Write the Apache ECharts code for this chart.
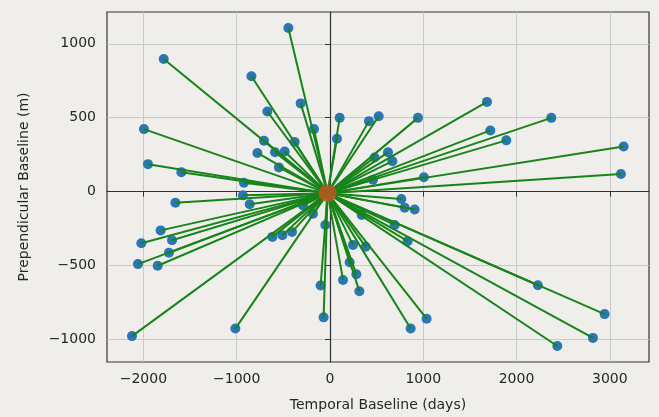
<!DOCTYPE html>
<html>
<head>
<meta charset="utf-8">
<script src="https://cdn.jsdelivr.net/npm/echarts@6/dist/echarts.min.js"></script>
<style>
html,body{margin:0;padding:0;background:#f0eeeb;}
#c{width:659px;height:417px;}
</style>
</head>
<body>
<div id="c"></div>
<script>
const center = [-25, -10];
const tempBaseline = [-446,-1782,-842,-671,-314,-1994,-171,-707,-378,-778,-589,-485,-547,-1951,-1593,-922,-933,-860,-1657,-1815,-2022,-1693,-1726,-2058,-1847,-2122,-1014,-617,-510,-407,-100,-68,-50,-289,-182,104,75,418,522,943,1683,1719,1890,2373,3148,3119,1007,479,622,669,461,765,801,908,340,693,833,247,383,211,283,140,315,2229,2944,2819,2437,865,1036];
const perpBaseline = [1107,897,781,542,597,423,423,345,336,262,266,271,164,186,132,60,-25,-85,-75,-262,-349,-329,-413,-490,-501,-977,-926,-306,-295,-272,-635,-850,-226,-94,-150,499,358,477,510,499,607,414,347,499,305,119,97,231,266,206,80,-50,-108,-121,-158,-225,-335,-360,-373,-477,-559,-597,-673,-633,-828,-989,-1044,-926,-859];
const xTicks = [-2000,-1000,0,1000,2000,3000];
const yTicks = [-1000,-500,0,500,1000];

const points = tempBaseline.map((x,i)=>[x, perpBaseline[i]]);
const links = points.map(p=>({coords:[center, p]}));

const chart = echarts.init(document.getElementById('c'));
const axisCommon = {
  axisLine:{show:true,lineStyle:{color:'#333',width:1.2}},
  axisTick:{show:true,length:5,lineStyle:{color:'#333',width:1}},
  axisLabel:{color:'#262626',fontSize:14,fontFamily:'DejaVu Sans'},
  splitLine:{show:true,lineStyle:{color:'#c9c9cc',width:1}},
  nameTextStyle:{color:'#262626',fontSize:14,fontFamily:'DejaVu Sans'}
};
chart.setOption({
  backgroundColor:'#f0eeeb',
  animation:false,
  grid:{left:107,top:12,right:10,bottom:53,show:true,borderColor:'#333',borderWidth:1.2,backgroundColor:'#f0eeeb'},
  xAxis:Object.assign({}, axisCommon, {
    type:'value', min:-2390, max:3420,
    name:'Temporal Baseline (days)', nameLocation:'middle', nameGap:36,
    axisTick:Object.assign({}, axisCommon.axisTick, {customValues:xTicks}),
    axisLabel:Object.assign({}, axisCommon.axisLabel, {customValues:xTicks, margin:10, formatter:v=>String(v).replace('-','\u2212')})
  }),
  yAxis:Object.assign({}, axisCommon, {
    type:'value', min:-1152, max:1215,
    name:'Prependicular Baseline (m)', nameLocation:'middle', nameGap:76,
    axisTick:Object.assign({}, axisCommon.axisTick, {customValues:yTicks}),
    axisLabel:Object.assign({}, axisCommon.axisLabel, {customValues:yTicks, margin:11, formatter:v=>String(v).replace('-','\u2212')})
  }),
  series:[
    {type:'scatter', data:points, symbolSize:10, itemStyle:{color:'#2a77b4',opacity:1}, z:2},
    {type:'lines', coordinateSystem:'cartesian2d', data:links, lineStyle:{color:'#17841a',width:2,opacity:1}, z:3},
    {type:'scatter', data:[center], symbolSize:18, itemStyle:{color:'#c9521f'}, z:4}
  ]
});
</script>
</body>
</html>
